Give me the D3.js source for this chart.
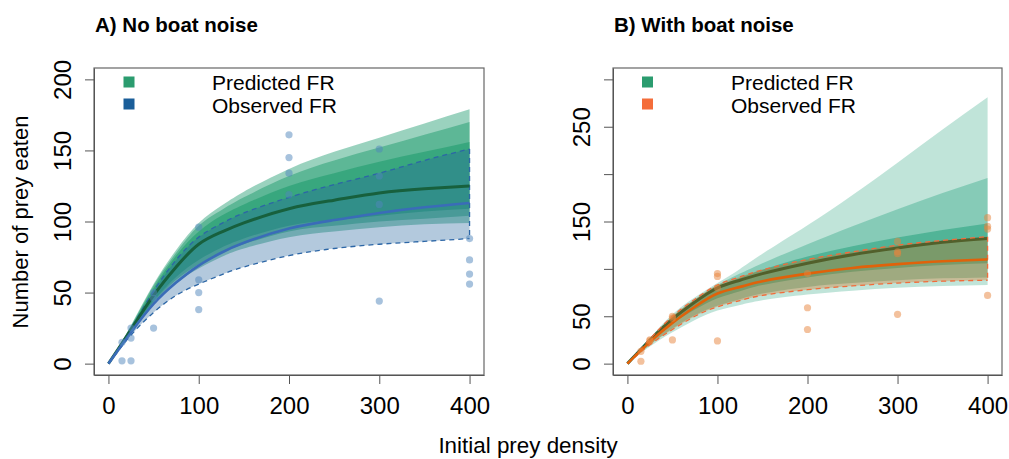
<!DOCTYPE html>
<html lang="en">

<head>
    <meta charset="utf-8">
    <title>D3: functional responses with and without boat noise</title>
    <script src="https://d3js.org/d3.v7.min.js"></script>
    <style type="text/css">
        body { margin: 0; background: #fff; }
        svg { font-family: "Liberation Sans", Arial, Helvetica, sans-serif; }
    </style>
</head>

<body>
    <script type="text/javascript">

        var w = 1009,
            h = 459;

        // prey densities at which the curves were read
        var density = [0, 25, 50, 75, 100, 125, 150, 200, 250, 300, 350, 400];

        // A) no boat noise - predicted FR spread (min .. max) and median
        var aPredMax = [0, 27, 56, 80, 99, 111, 121, 137, 149, 159, 169, 179];
        var aPredHi = [0, 26.5, 55, 78, 97, 108, 117, 132, 143, 152, 161, 170];
        var aPredHi2 = [0, 26, 53, 76, 93, 104, 112, 125, 134, 142, 149, 156];
        var aPredMed = [0, 24, 48, 68, 84, 92.5, 99, 109, 115, 120, 123, 125];
        var aPredLo2 = [0, 23, 44, 61, 73, 81.5, 88, 97, 101, 104, 107, 109];
        var aPredLo = [0, 22.5, 43, 59, 70, 78, 84, 93, 97, 100, 102, 104];
        var aPredMin = [0, 22, 42, 57, 67, 75, 81, 89, 93, 96, 98, 99];
        // observed FR with confidence band
        var aObsMed = [0, 22, 42, 57, 69, 78, 85, 95, 101, 106, 110, 113];
        var aObsLo = [0, 20, 36, 48, 56, 62.5, 68, 76, 81, 84, 86, 88];
        var aObsHi = [0, 25, 51, 73, 89, 98.5, 106, 117, 126, 134, 143, 151];
        // observations
        var aPtX = [15, 15, 25, 25, 25, 50, 50, 50, 100, 100, 100, 100,
            200, 200, 200, 200, 300, 300, 300, 300, 400, 400, 400, 400];
        var aPtY = [2, 15, 2, 18, 25, 50, 46, 25, 96, 59, 50, 38,
            161, 145, 134, 119, 151, 132, 112, 44, 88, 73, 63, 56];

        // B) with boat noise
        var bPredMax = [0, 27, 52, 70, 85, 100, 116, 146, 178, 212, 247, 281];
        var bPredHi = [0, 26, 50, 68, 83, 95, 106, 126, 145, 163, 180, 196];
        var bPredHi2 = [0, 25.5, 48, 66, 81, 90.5, 99, 113, 124, 133, 141, 148];
        var bPredMed = [0, 25, 47, 65, 80, 88, 95, 106, 115, 122, 128, 132];
        var bPredLo2 = [0, 23, 42, 57, 69, 76.5, 83, 91, 97, 101, 104, 106];
        var bPredLo = [0, 20, 37, 51, 61, 68, 74, 81, 85, 88, 90, 91];
        var bPredMin = [0, 18, 33, 46, 56, 62, 67, 73, 77, 80, 82, 83];
        var bObsMed = [0, 23, 43, 60, 74, 81, 87, 95, 101, 105, 108, 110];
        var bObsLo = [0, 20, 36, 50, 60, 66.5, 72, 78, 82, 85, 87, 88];
        var bObsHi = [0, 26, 50, 68, 83, 91.5, 99, 110, 118, 125, 130, 134];
        var bPtX = [15, 15, 25, 25, 50, 50, 50, 100, 100, 100, 100,
            200, 200, 200, 300, 300, 300, 300, 400, 400, 400, 400];
        var bPtY = [2.5, 13, 25, 24, 50, 48, 25, 95, 92, 80, 24,
            95, 59, 36, 129, 118, 116, 52, 154, 145, 142, 72];

        // ticks
        var xTicks = [0, 100, 200, 300, 400];
        var aYTicks = [0, 50, 100, 150, 200];
        var aYLabels = ["0", "50", "100", "150", "200"];
        var bYTicks = [0, 50, 100, 150, 200, 250, 300];
        var bYLabels = ["0", "50", "", "150", "", "250", ""];

        var legendText = ["Predicted FR", "Observed FR"];

        var svg = d3.select("body")
            .append("svg")
            .attr("width", w)
            .attr("height", h);

        function drawPanel(p) {
            var x = d3.scaleLinear().domain([-16, 416]).range([p.left, p.right]);
            var y = d3.scaleLinear().domain(p.yDomain).range([375, 68]);
            var g = svg.append("g");

            function pts(arr) {
                return density.map(function (d, i) { return [d, arr[i]]; });
            }
            function band(lo, hi) {
                return density.map(function (d, i) { return [d, lo[i], hi[i]]; });
            }
            var area = d3.area()
                .x(function (d) { return x(d[0]); })
                .y0(function (d) { return y(d[1]); })
                .y1(function (d) { return y(d[2]); })
                .curve(d3.curveNatural);
            var line = d3.line()
                .x(function (d) { return x(d[0]); })
                .y(function (d) { return y(d[1]); })
                .curve(d3.curveNatural);

            // predicted spread, layered so the centre is denser
            p.layers.forEach(function (l) {
                g.append("path")
                    .attr("d", area(band(l[0], l[1])))
                    .attr("fill", p.predCol)
                    .attr("opacity", l[2]);
            });

            if (!p.medianOnTop) {
                g.append("path")
                    .attr("d", line(pts(p.predMed)))
                    .attr("fill", "none")
                    .attr("stroke", p.medCol)
                    .attr("stroke-width", 3);
            }

            // observed confidence band
            g.append("path")
                .attr("d", area(band(p.obsLo, p.obsHi)))
                .attr("fill", p.bandCol)
                .attr("opacity", p.bandOpacity);

            [p.obsLo, p.obsHi].forEach(function (arr) {
                g.append("path")
                    .attr("d", line(pts(arr)))
                    .attr("fill", "none")
                    .attr("stroke", p.dashCol)
                    .attr("stroke-width", 1.3)
                    .attr("stroke-dasharray", "5,4");
            });
            var last = density.length - 1;
            g.append("line")
                .attr("x1", x(density[last])).attr("x2", x(density[last]))
                .attr("y1", y(p.obsHi[last])).attr("y2", y(p.obsLo[last]))
                .attr("stroke", p.dashCol)
                .attr("stroke-width", 1.3)
                .attr("stroke-dasharray", "5,4");

            if (p.medianOnTop) {
                g.append("path")
                    .attr("d", line(pts(p.predMed)))
                    .attr("fill", "none")
                    .attr("stroke", p.medCol)
                    .attr("stroke-width", 3);
            }

            g.append("path")
                .attr("d", line(pts(p.obsMed)))
                .attr("fill", "none")
                .attr("stroke", p.obsCol)
                .attr("stroke-width", 2.6);

            // raw observations
            g.selectAll("circle").data(p.ptX)
                .enter()
                .append("circle")
                .attr("cx", function (d) { return x(d); })
                .attr("cy", function (d, i) { return y(p.ptY[i]); })
                .attr("r", 3.6)
                .attr("fill", p.ptCol)
                .attr("opacity", 0.5);

            // box
            g.append("rect")
                .attr("x", p.left).attr("y", 68)
                .attr("width", p.right - p.left).attr("height", 307)
                .attr("fill", "none")
                .attr("stroke", "#666")
                .attr("stroke-width", 1.2);

            // axes
            var xAxis = g.append("g")
                .attr("transform", "translate(0,375)")
                .call(d3.axisBottom(x).tickValues(xTicks).tickSize(9).tickSizeOuter(0));
            xAxis.select(".domain").attr("stroke", "#555");
            xAxis.selectAll("line").attr("stroke", "#555");
            xAxis.selectAll("text")
                .attr("y", 39).attr("dy", null)
                .attr("font-size", "24px")
                .attr("font-family", "Liberation Sans, Arial, sans-serif")
                .attr("fill", "#000");

            var yAxis = g.append("g")
                .attr("transform", "translate(" + p.left + ",0)")
                .call(d3.axisLeft(y).tickValues(p.yTicks).tickSize(9).tickSizeOuter(0)
                    .tickFormat(function (d, i) { return p.yLabels[i]; }));
            yAxis.select(".domain").attr("stroke", "#555");
            yAxis.selectAll("line").attr("stroke", "#555");
            yAxis.selectAll("text")
                .attr("x", null).attr("dy", null)
                .attr("text-anchor", "middle")
                .attr("transform", "translate(-23.5,0) rotate(-90)")
                .attr("font-size", "24px")
                .attr("font-family", "Liberation Sans, Arial, sans-serif")
                .attr("fill", "#000");

            // title
            svg.append("text")
                .attr("x", p.left + 1)
                .attr("y", 32)
                .attr("font-size", "20.5px")
                .attr("font-weight", "bold")
                .text(p.title);

            // legend
            var legCols = [p.legPred, p.legObs];
            legendText.forEach(function (t, i) {
                svg.append("rect")
                    .attr("x", p.left + p.legSq)
                    .attr("y", 76.5 + i * 22)
                    .attr("width", 11).attr("height", 11)
                    .attr("fill", legCols[i]);
                svg.append("text")
                    .attr("x", p.left + p.legTx)
                    .attr("y", 89.5 + i * 23)
                    .attr("font-size", "21px")
                    .text(t);
            });
        }

        drawPanel({
            title: "A) No boat noise",
            left: 94, right: 484, yDomain: [-8, 208],
            yTicks: aYTicks, yLabels: aYLabels,
            layers: [[aPredMin, aPredMax, 0.45], [aPredLo, aPredHi, 0.5], [aPredLo2, aPredHi2, 0.6]],
            predMed: aPredMed, obsMed: aObsMed, obsLo: aObsLo, obsHi: aObsHi,
            ptX: aPtX, ptY: aPtY,
            predCol: "#1f9c6e", medCol: "#17603d", medianOnTop: true,
            bandCol: "#26659e", bandOpacity: 0.35, dashCol: "#2c66a6",
            obsCol: "#3a6cb8", ptCol: "#4f86bb",
            legPred: "#2b9c6f", legObs: "#1a5e99", legSq: 29.5, legTx: 118
        });

        drawPanel({
            title: "B) With boat noise",
            left: 613, right: 1002, yDomain: [-12, 312],
            yTicks: bYTicks, yLabels: bYLabels,
            layers: [[bPredMin, bPredMax, 0.28], [bPredLo, bPredHi, 0.35], [bPredLo2, bPredHi2, 0.5]],
            predMed: bPredMed, obsMed: bObsMed, obsLo: bObsLo, obsHi: bObsHi,
            ptX: bPtX, ptY: bPtY,
            predCol: "#1b9e77", medCol: "#17603d", medianOnTop: false,
            bandCol: "#d95f02", bandOpacity: 0.3, dashCol: "#f26b3a",
            obsCol: "#e0620a", ptCol: "#e8843c",
            legPred: "#2b9c6f", legObs: "#f46d3a", legSq: 29, legTx: 118
        });

        // shared axis titles
        svg.append("text")
            .attr("transform", "translate(28,222) rotate(-90)")
            .attr("text-anchor", "middle")
            .attr("font-size", "22px")
            .text("Number of prey eaten");

        svg.append("text")
            .attr("x", 528)
            .attr("y", 453)
            .attr("text-anchor", "middle")
            .attr("font-size", "22.4px")
            .text("Initial prey density");

    </script>
</body>

</html>
